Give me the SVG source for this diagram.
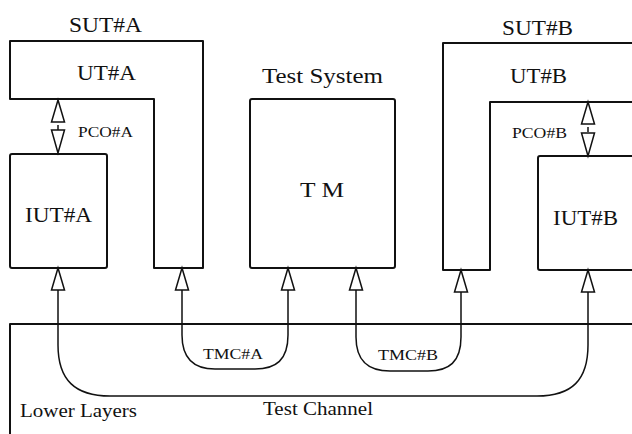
<svg xmlns="http://www.w3.org/2000/svg" width="632" height="434" viewBox="0 0 632 434">
<style>
.box{fill:none;stroke:#111;stroke-width:2;stroke-linejoin:round}
.ln{fill:none;stroke:#111;stroke-width:1.5}
.tri{fill:#fff;stroke:#111;stroke-width:1.5;stroke-linejoin:miter}
text{font-family:"Liberation Serif","Times New Roman",serif;fill:#111}
.big{font-size:22px}
.sm{font-size:15px}
.mid{font-size:18px}
</style>
<defs>
<path id="up" class="tri" d="M0,0 L-6.5,22 L6.5,22 Z"/>
<path id="dn" class="tri" d="M0,0 L-6.5,-23 L6.5,-23 Z"/>
</defs>
<rect width="632" height="434" fill="#fff"/>
<g id="lower-layers">
<path class="box" d="M10,436 V324 H634"/>
<text class="mid" x="20" y="417" textLength="117" lengthAdjust="spacingAndGlyphs">Lower Layers</text>
<text class="mid" x="263" y="415" textLength="110" lengthAdjust="spacingAndGlyphs">Test Channel</text>
</g>
<g id="sut-a">
<path class="box" d="M10,41 H203 V268 H154 V99 H10 Z"/>
<text class="big" x="69" y="32" textLength="73" lengthAdjust="spacingAndGlyphs">SUT#A</text>
<text class="big" x="77" y="80" textLength="59" lengthAdjust="spacingAndGlyphs">UT#A</text>
</g>
<g id="iut-a">
<rect class="box" x="10" y="154" width="97" height="114" rx="2"/>
<text class="big" x="25" y="222" textLength="67" lengthAdjust="spacingAndGlyphs">IUT#A</text>
</g>
<g id="test-system">
<text class="big" x="262" y="83" textLength="121" lengthAdjust="spacingAndGlyphs">Test  System</text>
<rect class="box" x="250" y="99" width="145" height="169" rx="2"/>
<text class="big" x="300" y="197" textLength="44" lengthAdjust="spacingAndGlyphs">T  M</text>
</g>
<g id="sut-b">
<path class="box" d="M634,43 H443 V270 H490 V102 H634"/>
<text class="big" x="502" y="35" textLength="71" lengthAdjust="spacingAndGlyphs">SUT#B</text>
<text class="big" x="510" y="83" textLength="57" lengthAdjust="spacingAndGlyphs">UT#B</text>
</g>
<g id="iut-b">
<path class="box" d="M634,156 H540 Q538,156 538,158 V268 Q538,270 540,270 H634"/>
<text class="big" x="553" y="225" textLength="65" lengthAdjust="spacingAndGlyphs">IUT#B</text>
</g>
<g id="connectors">
<line class="ln" x1="58" y1="125" x2="58" y2="130"/>
<use href="#up" x="58" y="100"/>
<use href="#dn" x="58" y="153"/>
<text class="sm" x="78" y="137" textLength="55" lengthAdjust="spacingAndGlyphs">PCO#A</text>
<line class="ln" x1="588" y1="127" x2="588" y2="132"/>
<use href="#up" x="588" y="102"/>
<use href="#dn" x="588" y="156"/>
<text class="sm" x="512" y="138" textLength="55" lengthAdjust="spacingAndGlyphs">PCO#B</text>
<path class="ln" d="M58,290 V345 C58,380 75,396 110,396 H537 C572,396 588,380 588,345 V292"/>
<path class="ln" d="M182,290 V335 C182,360 195,369 215,369 H255 C276,369 288,360 288,335 V290"/>
<path class="ln" d="M356,290 V337 C356,362 369,371 390,371 H428 C449,371 461,362 461,337 V292"/>
<use href="#up" x="58" y="268"/>
<use href="#up" x="182" y="268"/>
<use href="#up" x="288" y="268"/>
<use href="#up" x="356" y="268"/>
<use href="#up" x="461" y="270"/>
<use href="#up" x="588" y="270"/>
<text class="sm" x="203" y="359" textLength="60" lengthAdjust="spacingAndGlyphs">TMC#A</text>
<text class="sm" x="378" y="360" textLength="60" lengthAdjust="spacingAndGlyphs">TMC#B</text>
</g>
</svg>
